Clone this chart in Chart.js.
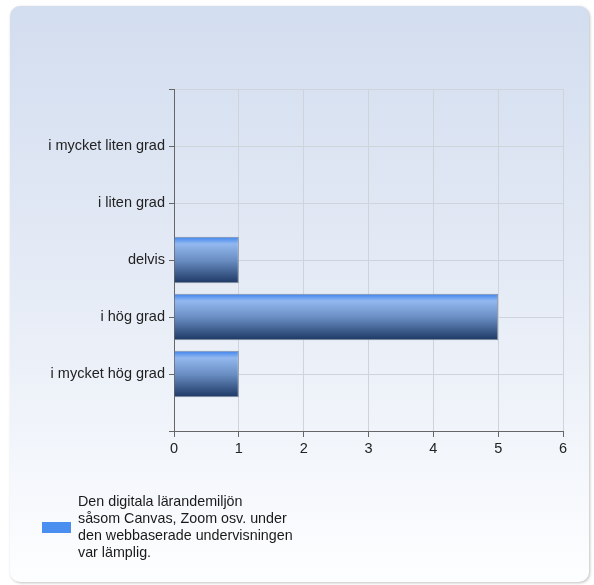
<!DOCTYPE html>
<html>
<head>
<meta charset="utf-8">
<script src="https://cdn.jsdelivr.net/npm/chart.js@4.4.1/dist/chart.umd.min.js"></script>
<style>
    html, body { margin: 0; padding: 0; background: #ffffff; }
    #wrap { position: relative; width: 594px; height: 585px; }
    #legend-box {
        position: absolute; left: 42px; top: 522px;
        width: 29px; height: 11px; background: #4a8ef0;
    }
    #legend-text {
        position: absolute; left: 78px; top: 493px; width: 240px;
        font: 14.3px "Liberation Sans", Arial, sans-serif;
        line-height: 17px; color: #1a1a1a;
    }
</style>
</head>
<body>
<div id="wrap">
    <canvas id="chart" width="594" height="585"></canvas>
    <div id="legend-box"></div>
    <div id="legend-text"></div>
</div>
<script>
"use strict";

// answers (top to bottom) and number of responses
const categories = ["i mycket liten grad", "i liten grad", "delvis", "i hög grad", "i mycket hög grad"];
const counts = [0, 0, 1, 5, 1];
const xTicks = [0, 1, 2, 3, 4, 5, 6];
const seriesName = ["Den digitala lärandemiljön", "såsom Canvas, Zoom osv. under", "den webbaserade undervisningen", "var lämplig."];

document.getElementById("legend-text").innerHTML = seriesName.join("<br>");

// empty slot above and below, like the original
const labels = [""].concat(categories, [""]);
const values = [null].concat(counts, [null]);

const FONT = { family: "'Liberation Sans', Arial, sans-serif", size: 14.5 };

// rounded panel with light blue gradient behind the chart
const panelPlugin = {
    id: "panel",
    beforeDraw: function (chart) {
        const c = chart.ctx;
        const x = 10, y = 6, w = 579, h = 576, r = 10;
        c.save();
        c.shadowColor = "rgba(0,0,0,0.25)";
        c.shadowBlur = 3;
        c.shadowOffsetX = 1;
        c.shadowOffsetY = 1;
        const g = c.createLinearGradient(0, y, 0, y + h);
        g.addColorStop(0, "#d2ddef");
        g.addColorStop(0.5, "#e6ecf6");
        g.addColorStop(1, "#fdfeff");
        c.beginPath();
        c.moveTo(x + r, y);
        c.arcTo(x + w, y, x + w, y + h, r);
        c.arcTo(x + w, y + h, x, y + h, r);
        c.arcTo(x, y + h, x, y, r);
        c.arcTo(x, y, x + w, y, r);
        c.closePath();
        c.fillStyle = g;
        c.fill();
        c.restore();
    }
};

function barFill(ctx) {
    const chart = ctx.chart;
    const ys = chart.scales.y;
    if (!ys || ctx.dataIndex === undefined) return "#4a8ef0";
    const mid = ys.getPixelForValue(ctx.dataIndex);
    if (!isFinite(mid)) return "#4a8ef0";
    const half = 23;
    const g = chart.ctx.createLinearGradient(0, mid - half, 0, mid + half);
    g.addColorStop(0, "#3f84ee");
    g.addColorStop(0.15, "#92b8ef");
    g.addColorStop(0.5, "#6b8fc4");
    g.addColorStop(1, "#1d3864");
    return g;
}

new Chart(document.getElementById("chart").getContext("2d"), {
    type: "bar",
    data: {
        labels: labels,
        datasets: [{
            label: seriesName.join(" "),
            data: values,
            backgroundColor: barFill,
            borderColor: "#8590a0",
            borderWidth: 1,
            barPercentage: 0.82,
            categoryPercentage: 1.0
        }]
    },
    options: {
        indexAxis: "y",
        responsive: false,
        animation: false,
        layout: { padding: { top: 89, right: 31, left: 0, bottom: 0 } },
        scales: {
            x: {
                type: "linear",
                min: 0,
                max: 6,
                afterFit: function (scale) { scale.height = 154; },
                afterBuildTicks: function (scale) {
                    scale.ticks = xTicks.map(v => ({ value: v }));
                },
                ticks: { font: FONT, color: "#222", padding: 3 },
                grid: { color: "#cfd4dc", tickColor: "#666", tickLength: 6 },
                border: { color: "#666" }
            },
            y: {
                type: "category",
                offset: false,
                afterFit: function (scale) { scale.width = 174; },
                ticks: { font: FONT, color: "#222", padding: 4, autoSkip: false },
                grid: { offset: false, color: "#cfd4dc", tickColor: "#666", tickLength: 5 },
                border: { color: "#666" }
            }
        },
        plugins: {
            legend: { display: false },
            tooltip: { enabled: false },
            title: { display: false }
        }
    },
    plugins: [panelPlugin]
});
</script>
</body>
</html>
